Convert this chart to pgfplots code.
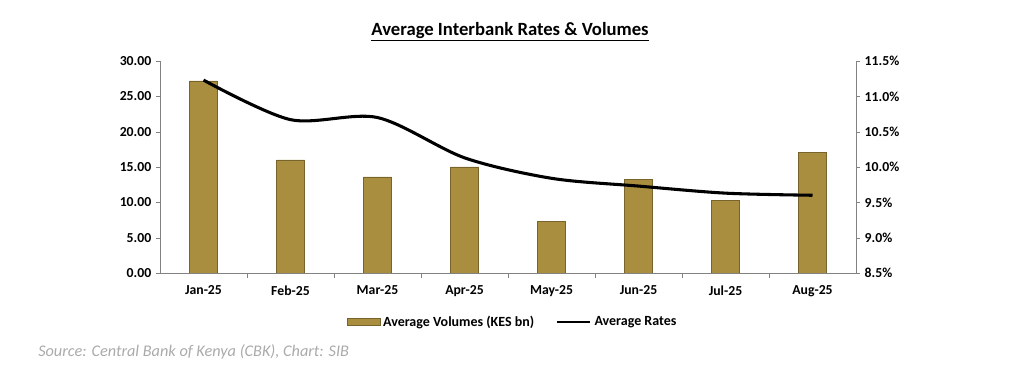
\documentclass[border=0pt]{standalone}
\usepackage{pgfplots}
\pgfplotsset{compat=1.18}
\usepackage{fontspec}
\setmainfont{Carlito}
\definecolor{gold}{RGB}{168,142,62}
\definecolor{golddark}{RGB}{120,100,42}
\definecolor{axisgray}{RGB}{130,130,130}
\definecolor{srcgray}{RGB}{170,170,170}
\pgfplotstableread{
x vol rate
0 27.2 11.23
1 16.0 10.67
2 13.6 10.70
3 15.0 10.13
4 7.35 9.84
5 13.3 9.73
6 10.3 9.63
7 17.1 9.60
}\data
\begin{document}
\begin{tikzpicture}
\path[use as bounding box] (0pt,0pt) rectangle (768pt,291.75pt);
\node[font=\bfseries\fontsize{14}{16}\selectfont] at (382.5pt,267.75pt) {\underline{Average Interbank Rates \& Volumes}};
\begin{axis}[
  at={(120pt,87pt)}, anchor=south west,
  scale only axis, width=522pt, height=159pt,
  xmin=-0.5, xmax=7.5, ymin=0, ymax=30,
  axis y line*=left, axis x line*=bottom,
  axis line style={axisgray},
  xtick=data,
  xticklabels={Jan-25,Feb-25,Mar-25,Apr-25,May-25,Jun-25,Jul-25,Aug-25},
  major x tick style={draw=none},
  minor xtick={0.5,1.5,...,6.5},
  minor x tick style={axisgray},
  minor tick length=4pt,
  ytick={0,5,...,30},
  tick align=outside, major tick length=3pt,
  y tick style={axisgray},
  yticklabel={\pgfmathprintnumber[fixed,fixed zerofill,precision=2]{\tick}},
  /pgf/number format/assume math mode=true,
  ticklabel style={font=\bfseries\fontsize{10.3}{12}\selectfont},
  xticklabel style={yshift=-3pt},
  ybar, bar width=21pt,
]
\addplot[fill=gold, draw=golddark, line width=0.4pt] table[x=x,y=vol]{\data};
\end{axis}
\begin{axis}[
  at={(120pt,87pt)}, anchor=south west,
  scale only axis, width=522pt, height=159pt,
  xmin=-0.5, xmax=7.5, ymin=8.5, ymax=11.5,
  axis y line*=right, axis x line=none,
  axis line style={axisgray},
  ytick={8.5,9,...,11.5},
  tick align=outside, major tick length=3pt,
  y tick style={axisgray},
  yticklabel={\pgfmathprintnumber[fixed,fixed zerofill,precision=1]{\tick}\%},
  /pgf/number format/assume math mode=true,
  ticklabel style={font=\bfseries\fontsize{10.3}{12}\selectfont},
  legend columns=2,
  legend style={at={(0.507,-0.231)}, anchor=center, draw=none, fill=none,
    font=\bfseries\fontsize{10.5}{12}\selectfont,
    /tikz/every odd column/.append style={column sep=0pt},
    /tikz/every even column/.append style={column sep=14pt}},
]
\addlegendimage{legend image code/.code={\draw[fill=gold, draw=golddark] (0pt,-2.5pt) rectangle (25pt,2.5pt);}}
\addlegendentry{Average Volumes (KES bn)}
\addlegendimage{legend image code/.code={\draw[black,line width=2.2pt] (0pt,0pt) -- (25pt,0pt);}}
\addlegendentry{Average Rates}
\addplot[black, line width=2.3pt, smooth, tension=0.5, no marks, forget plot] table[x=x,y=rate]{\data};
\end{axis}
\node[anchor=west, inner sep=0pt, text=srcgray, font=\itshape\fontsize{12.2}{14}\selectfont] at (28.5pt,27.75pt) {Source: Central Bank of Kenya (CBK), Chart: SIB};
\end{tikzpicture}
\end{document}
